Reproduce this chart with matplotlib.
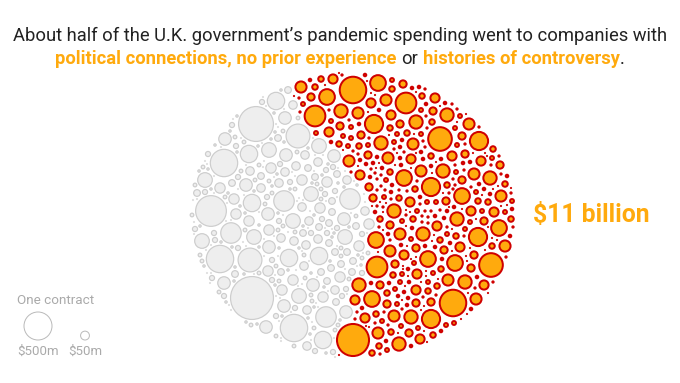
import numpy as np
import matplotlib
matplotlib.use("Agg")
import matplotlib.pyplot as plt
from matplotlib.patches import Circle

# contract values ($m); legend says $500m -> radius 14 px
grey_sizes = [1240, 830, 650, 520, 400, 300, 220, 160, 120, 85, 60, 40, 25, 15, 8, 3]
grey_counts = [1, 1, 1, 3, 2, 4, 6, 9, 13, 16, 20, 26, 34, 45, 60, 90]
orange_sizes = [740, 520, 420, 330, 260, 200, 150, 110, 80, 55, 36, 22, 13, 7, 3]
orange_counts = [1, 2, 2, 3, 5, 9, 13, 17, 21, 26, 34, 45, 60, 70, 80]

legend_values = [500, 50]
legend_labels = ["$500m", "$50m"]
total_label = "$11 billion"

title_line1 = "About half of the U.K. government\u2019s pandemic spending went to companies with"
title_line2 = [("political connections, no prior experience", True),
               ("or", False),
               ("histories of controversy", True),
               (".", False)]

ORANGE = "#FFAA0D"
RED = "#CF0000"
DARK = "#222222"
FONT = ["Liberation Sans Narrow", "Roboto", "DejaVu Sans"]

plt.rcParams["font.family"] = FONT


def radius(v):
    return 14 * np.sqrt(v / 500.0)


def halton(i, base):
    f, r = 1.0, 0.0
    while i > 0:
        f /= base
        r += f * (i % base)
        i //= base
    return r


# layout of the bubble cloud (pixel coords, y down)
CX, CY, A, B = 353, 215, 165, 145
GAP = {0: 2.8, 1: 2.2}
ANGLE_OFFSET = {0: -0.75, 1: 0.0}
split_y = [60, 108, 140, 160, 195, 230, 262, 300, 330, 370]
split_x = [288, 294, 322, 340, 366, 372, 372, 350, 342, 334]

gx, gy = np.meshgrid(np.arange(180, 531, 1.0), np.arange(60, 371, 1.0))
gx = gx.ravel()
gy = gy.ravel()
dx, dy = gx - CX, gy - CY
s = np.sqrt((dx / A) ** 2 + (dy / B) ** 2)
rad = np.hypot(dx, dy)
clear = (1 - s) * np.where(s > 1e-6, rad / np.maximum(s, 1e-6), B)
side = np.where(gx >= np.interp(gy, split_y, split_x), 1, 0)

items = [(radius(v), 0) for v, c in zip(grey_sizes, grey_counts) for _ in range(c)]
items += [(radius(v), 1) for v, c in zip(orange_sizes, orange_counts) for _ in range(c)]
items.sort(key=lambda t: (-t[0], t[1]))

counter = {0: 0, 1: 0}


def next_target(grp, r):
    while True:
        counter[grp] += 1
        k = counter[grp]
        th = 2 * np.pi * halton(k, 2) + ANGLE_OFFSET[grp]
        rho = 0.86 if r >= 13 else np.sqrt(halton(k, 3))
        x = CX + A * rho * np.cos(th)
        y = CY + B * rho * np.sin(th)
        if (x >= np.interp(y, split_y, split_x)) == bool(grp):
            return x, y


circles = []
for r, grp in items:
    ok = (clear >= r + GAP[grp]) & (side == grp)
    if not ok.any():
        ok = (clear >= r + 0.8) & (side == grp)
    if ok.any():
        tx, ty = next_target(grp, r)
        idx = np.flatnonzero(ok)
        j = idx[np.argmin((gx[idx] - tx) ** 2 + (gy[idx] - ty) ** 2)]
    else:
        j = np.argmax(np.where(side == grp, clear - r, -np.inf))
    x, y = gx[j], gy[j]
    circles.append((x, y, r, grp))
    clear = np.minimum(clear, np.hypot(gx - x, gy - y) - r)

fig = plt.figure(figsize=(6.8, 3.83), dpi=100)
ax = fig.add_axes([0, 0, 1, 1])
ax.set_xlim(0, 680)
ax.set_ylim(383, 0)
ax.axis("off")

for x, y, r, grp in circles:
    if grp == 1:
        if r <= 2.0:
            ax.add_patch(Circle((x, y), r, fc=RED, ec="none"))
        else:
            ax.add_patch(Circle((x, y), r - 1.0, fc=ORANGE, ec=RED, lw=2.0 * 0.72))
    else:
        if r <= 1.7:
            ax.add_patch(Circle((x, y), r, fc="#dedede", ec="none"))
        else:
            ax.add_patch(Circle((x, y), r - 0.6, fc="#eeeeee", ec="#cdcdcd", lw=1.2 * 0.72))

renderer = fig.canvas.get_renderer()


def fit_text(x, y, s, width, **kw):
    t = ax.text(x, y, s, fontsize=10, **kw)
    w = t.get_window_extent(renderer).width
    t.set_fontsize(10 * width / w)
    return t


t1 = fit_text(340, 41, title_line1, 656, ha="center", va="baseline", color=DARK)
fs = t1.get_fontsize()

# second line: pieces of different colour and weight, centred as a whole
pieces = []
for txt, bold in title_line2:
    t = ax.text(0, 64, txt, fontsize=fs, va="baseline", ha="left",
                color=ORANGE if bold else DARK, weight="bold" if bold else "normal")
    pieces.append(t)
probe = ax.text(0, 0, "n n", fontsize=fs)
probe2 = ax.text(0, 0, "nn", fontsize=fs)
space = probe.get_window_extent(renderer).width - probe2.get_window_extent(renderer).width
probe.remove()
probe2.remove()
widths = [p.get_window_extent(renderer).width for p in pieces]
gaps = [space, space, 0, 0]
total = sum(widths) + sum(gaps[:3])
xpos = 340 - total / 2
for p, w, g in zip(pieces, widths, gaps):
    p.set_x(xpos)
    xpos += w + g

fit_text(533, 215, total_label, 117, ha="left", va="center", color=ORANGE, weight="bold")

# legend
fit_text(56, 300, "One contract", 77, ha="center", va="center", color="#aaaaaa")
legend_x = [38, 85]
for lx, v, lab in zip(legend_x, legend_values, legend_labels):
    r = radius(v)
    ax.add_patch(Circle((lx, 340 - r), r, fc="white", ec="#bbbbbb", lw=1.0 * 0.72))
    ax.text(lx, 351, lab, fontsize=fs * 0.72, ha="center", va="center", color="#aaaaaa")

fig.savefig("out.png", dpi=100)
